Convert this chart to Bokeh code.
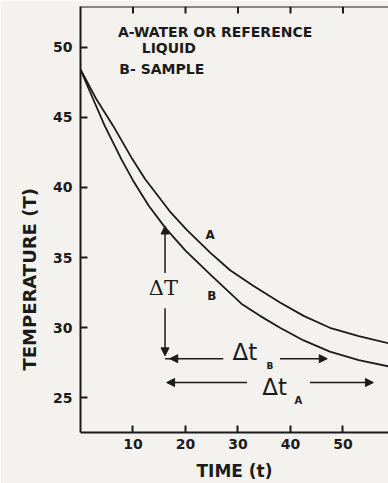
from bokeh.plotting import figure
from bokeh.models import LinearAxis, FixedTicker, Range1d, Arrow, NormalHead, Span, Title
from bokeh.core.properties import value
from bokeh.embed import file_html
from bokeh.resources import INLINE

# ---- data ----
time_a = [0, 3.0, 6.2, 9.9, 12.3, 17.0, 20.2, 24.7, 28.5, 32.9, 38.0, 42.5, 47.5, 53.0, 58.7]
temp_a = [48.4, 46.3, 44.4, 42.0, 40.6, 38.3, 37.0, 35.35, 34.1, 33.0, 31.8, 30.85, 30.0, 29.4, 28.9]
time_b = [0, 2.4, 4.6, 7.8, 10.0, 13.0, 16.2, 20.0, 24.7, 30.7, 34.2, 38.0, 42.5, 47.5, 53.0, 58.7]
temp_b = [48.4, 46.3, 44.4, 42.0, 40.5, 38.7, 37.1, 35.5, 33.8, 31.7, 30.85, 30.0, 29.1, 28.3, 27.7, 27.25]
x_ticks = [10, 20, 30, 40, 50]
y_ticks = [25, 30, 35, 40, 45, 50]
legend_lines = ["A-WATER OR REFERENCE", "LIQUID", "B- SAMPLE"]

INK = "#1b1b1b"
PAPER = "#f3f2ee"
W, H = 388, 483
X0, X1 = 0, 58.67
Y0, Y1 = 22.54, 52.89

p = figure(width=W, height=H, output_backend="svg", toolbar_location=None,
           x_range=Range1d(X0, X1), y_range=Range1d(Y0, Y1),
           x_axis_location=None, y_axis_location=None,
           min_border_left=80, min_border_right=0, min_border_top=6, min_border_bottom=46,
           background_fill_color=PAPER, border_fill_color=PAPER)
p.outline_line_color = None
p.grid.visible = False

def style_axis(ax, ticks):
    ax.ticker = FixedTicker(ticks=ticks)
    ax.minor_tick_line_color = None
    ax.axis_line_color = INK
    ax.axis_line_width = 2
    ax.major_tick_line_color = INK
    ax.major_tick_line_width = 2
    ax.major_tick_in = 7
    ax.major_tick_out = 0
    ax.major_label_text_font = "DejaVu Sans"
    ax.major_label_text_font_style = "bold"
    ax.major_label_text_font_size = "14px"
    ax.major_label_text_color = INK

xb = LinearAxis()
style_axis(xb, x_ticks)
xb.major_label_standoff = 6
xb.axis_label = "TIME (t)"
xb.axis_label_text_font = "DejaVu Sans"
xb.axis_label_text_font_style = "bold"
xb.axis_label_text_font_size = "17px"
xb.axis_label_text_color = INK
xb.axis_label_standoff = 9
p.add_layout(xb, "below")

yl = LinearAxis()
style_axis(yl, y_ticks)
yl.major_label_standoff = 8
yl.major_label_orientation = "horizontal"
p.add_layout(yl, "left")

# y axis title (placed toward the lower part like the reference)
ttl = Title(text="TEMPERATURE (T)", align="left", offset=62, standoff=22,
            text_font="DejaVu Sans", text_font_style="bold",
            text_font_size="18px", text_color=INK)
p.add_layout(ttl, "left")

# top frame line with inward ticks
p.add_layout(Span(location=Y1, dimension="width", line_color=INK, line_width=2))
p.segment(x0=x_ticks, y0=[Y1] * len(x_ticks), x1=x_ticks, y1=[Y1 - 0.5] * len(x_ticks),
          line_color=INK, line_width=2)

# curves
p.line(time_a, temp_a, line_color=INK, line_width=1.8)
p.line(time_b, temp_b, line_color=INK, line_width=1.8)

# legend text
legend_x = [7.14, 11.66, 7.39]
legend_y = [51.06, 49.91, 48.43]
p.text(legend_x, legend_y, text=legend_lines, text_font=value("DejaVu Sans"),
       text_font_style="bold", text_font_size="14px", text_color=INK,
       text_align="left", text_baseline="middle")

# curve labels
p.text([24.7, 25.0], [36.6, 32.3], text=["A", "B"], text_font=value("DejaVu Sans"),
       text_font_style="bold", text_font_size="12px", text_color=INK,
       text_align="center", text_baseline="middle")

def head():
    return NormalHead(size=8, fill_color=INK, line_color=INK, line_width=1)

# Delta T vertical arrow
p.add_layout(Arrow(end=head(), x_start=16.1, y_start=33.9, x_end=16.1, y_end=37.25,
                   line_color=INK, line_width=1.5))
p.add_layout(Arrow(end=head(), x_start=16.1, y_start=31.4, x_end=16.1, y_end=28.0,
                   line_color=INK, line_width=1.5))
p.text([15.8], [32.8], text=["ΔT"], text_font=value("DejaVu Serif"),
       text_font_size="21px", text_color=INK, text_align="center", text_baseline="middle")

# Delta t_B
p.segment([16.1], [27.8], [17.2], [27.8], line_color=INK, line_width=1.5)
p.add_layout(Arrow(end=head(), x_start=27.2, y_start=27.8, x_end=17.0, y_end=27.8,
                   line_color=INK, line_width=1.5))
p.add_layout(Arrow(end=head(), x_start=38.0, y_start=27.8, x_end=47.0, y_end=27.8,
                   line_color=INK, line_width=1.5))
p.text([31.3], [28.3], text=["Δt"], text_font=value("DejaVu Sans"),
       text_font_size="23px", text_color=INK, text_align="center", text_baseline="middle")
p.text([36.1], [27.3], text=["B"], text_font=value("DejaVu Sans"), text_font_style="bold",
       text_font_size="9px", text_color=INK, text_align="center", text_baseline="middle")

# Delta t_A
p.add_layout(Arrow(end=head(), x_start=31.7, y_start=26.1, x_end=16.4, y_end=26.1,
                   line_color=INK, line_width=1.5))
p.add_layout(Arrow(end=head(), x_start=43.7, y_start=26.1, x_end=55.8, y_end=26.1,
                   line_color=INK, line_width=1.5))
p.text([37.0], [25.75], text=["Δt"], text_font=value("DejaVu Sans"),
       text_font_size="23px", text_color=INK, text_align="center", text_baseline="middle")
p.text([41.5], [24.8], text=["A"], text_font=value("DejaVu Sans"), text_font_style="bold",
       text_font_size="10px", text_color=INK, text_align="center", text_baseline="middle")

open("out.html", "w").write(file_html(p, INLINE))
